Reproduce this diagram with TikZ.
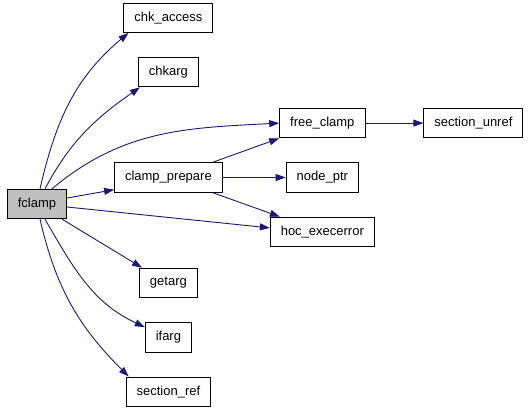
\documentclass[tikz,border=0pt]{standalone}
\usepackage{fontspec}
\setmainfont{Liberation Sans}
\usetikzlibrary{positioning, arrows.meta}
\definecolor{edgeblue}{RGB}{25,25,112}
\definecolor{rootgray}{RGB}{191,191,191}

\begin{document}
\begin{tikzpicture}[x=1pt, y=1pt, node distance=24pt and 58pt,
    >={Triangle[length=10pt, width=7pt]},
    every node/.style={draw, line width=0.9pt, minimum height=29.5pt, inner xsep=10.5pt,
        font=\fontsize{13}{15}\selectfont},
    root/.style={fill=rootgray},
    call/.style={->, draw=edgeblue, line width=0.9pt}]

\useasboundingbox (-37,204) rectangle (491,-204);

% Caller
\node[root] (fclamp) {fclamp};

% Direct callees
\node[right=47pt of fclamp, yshift=26.5pt] (clamp_prepare) {clamp\_prepare};
\node[above=75pt of clamp_prepare] (chkarg) {chkarg};
\node[above=of chkarg] (chk_access) {chk\_access};
\node[below=75pt of clamp_prepare] (getarg) {getarg};
\node[below=of getarg] (ifarg) {ifarg};
\node[below=of ifarg] (section_ref) {section\_ref};

% Second level
\node[right=63pt of clamp_prepare] (node_ptr) {node\_ptr};
\node[above=of node_ptr] (free_clamp) {free\_clamp};
\node[below=of node_ptr] (hoc_execerror) {hoc\_execerror};
\node[right=of free_clamp] (section_unref) {section\_unref};

% fclamp calls
\draw[call] ([xshift=3pt]fclamp.north) to[out=77, in=-140] ([xshift=5pt]chk_access.south west);
\draw[call] ([xshift=8pt]fclamp.north) to[out=62, in=-145] ([xshift=2pt]chkarg.south west);
\draw[call] ([xshift=15pt]fclamp.north) to[out=40, in=183] (free_clamp.west);
\draw[call] ([yshift=6pt]fclamp.east) -- ([yshift=3pt]clamp_prepare.south west);
\draw[call] ([yshift=-3pt]fclamp.east) -- ([yshift=4pt]hoc_execerror.west);
\draw[call] ([xshift=-5pt]fclamp.south east) -- ([xshift=3pt]getarg.north west);
\draw[call] ([xshift=8pt]fclamp.south) to[out=-60, in=155] ([yshift=-5pt]ifarg.north west);
\draw[call] ([xshift=3pt]fclamp.south) to[out=-77, in=135] ([xshift=3pt]section_ref.north west);

% clamp_prepare calls
\draw[call] ([xshift=-10pt]clamp_prepare.north east) -- (free_clamp.south west);
\draw[call] (clamp_prepare) -- (node_ptr);
\draw[call] ([xshift=-10pt]clamp_prepare.south east) -- ([xshift=10pt]hoc_execerror.north west);

% free_clamp calls
\draw[call] (free_clamp) -- (section_unref);

\end{tikzpicture}
\end{document}
